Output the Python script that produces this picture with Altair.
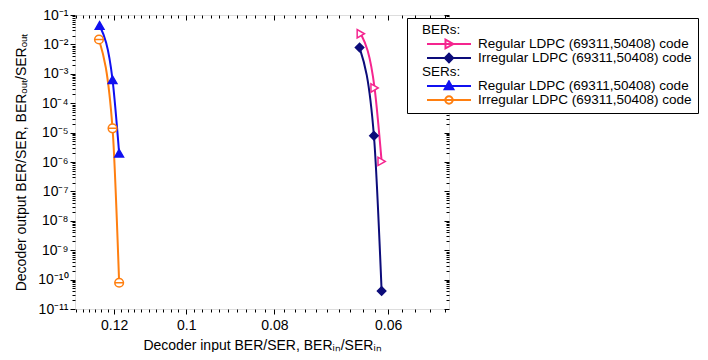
import json
import altair as alt
import pandas as pd

# ---------------- data ----------------
series_labels = ["Regular LDPC (69311,50408) code", "Irregular LDPC (69311,50408) code"]
legend_headers = ["BERs:", "SERs:"]

ber_reg_x = [0.0643, 0.0621, 0.0610]
ber_reg_y = [2.3e-2, 3.3e-4, 1.05e-6]
ber_irr_x = [0.0645, 0.0622, 0.0610]
ber_irr_y = [7.8e-3, 7.8e-6, 4.1e-11]

ser_reg_x = [0.1245, 0.1205, 0.1185]
ser_reg_y = [4.4e-2, 6.3e-4, 2.0e-6]
ser_irr_x = [0.1247, 0.1205, 0.1185]
ser_irr_y = [1.47e-2, 1.4e-5, 7.8e-11]

x_major = [0.12, 0.1, 0.08, 0.06]
y_major = [1e-1, 1e-2, 1e-3, 1e-4, 1e-5, 1e-6, 1e-7, 1e-8, 1e-9, 1e-10, 1e-11]
y_tick_labels = ["10⁻¹", "10⁻²", "10⁻³", "10⁻⁴", "10⁻⁵", "10⁻⁶",
                 "10⁻⁷", "10⁻⁸", "10⁻⁹", "10⁻¹⁰", "10⁻¹¹"]

x_title = "Decoder input BER/SER, BERᵢₙ/SERᵢₙ"
y_title = "Decoder output BER/SER, BERₒᵤₜ/SERₒᵤₜ"

# minor ticks (axis styling)
x_minor = [round(0.052 + 0.002 * i, 3) for i in range(41)]
x_minor = [v for v in x_minor if v <= 0.1325 and v not in x_major]
y_minor = [k * 10.0 ** e for e in range(-11, -1) for k in range(2, 10)]

# ---------------- tables ----------------
def frame(xs, ys, name, key):
    return pd.DataFrame({"x": xs, "y": ys, "series": name, "key": key, "i": range(len(xs))})

ber = pd.concat([frame(ber_reg_x, ber_reg_y, series_labels[0], "b1"),
                 frame(ber_irr_x, ber_irr_y, series_labels[1], "b2")])
ser = pd.concat([frame(ser_reg_x, ser_reg_y, series_labels[0], "s1"),
                 frame(ser_irr_x, ser_irr_y, series_labels[1], "s2")])
both = pd.concat([ber, ser])

# ---------------- styling ----------------
FONT = "Liberation Sans"
W, H = 374, 294
PINK, NAVY, BLUE, ORANGE = "#f5258f", "#0c0c7a", "#1010f0", "#ff7f10"
NONE = "rgba(0,0,0,0)"

x_scale = alt.Scale(type="log", domain=[0.05144, 0.1325], reverse=True, nice=False, zero=False)
y_scale = alt.Scale(type="log", domain=[1e-11, 1e-1], nice=False, zero=False)

common_axis = dict(grid=False, domain=False, tickColor="black", tickWidth=1)

def xaxis(values, size, labels=False, inward=False, title=None):
    kw = dict(common_axis, values=values, tickSize=size, orient="bottom")
    if inward:
        kw["offset"] = -H
    if labels:
        kw.update(labels=True, format="~g", labelFont=FONT, labelFontSize=14,
                  labelColor="black", labelPadding=4, title=title, titleFont=FONT,
                  titleFontSize=14, titleFontWeight="normal", titleColor="black",
                  titlePadding=6)
    else:
        kw.update(labels=False, title=None)
    return alt.Axis(**kw)

def yaxis(values, size, labels=False, inward=False, title=None):
    kw = dict(common_axis, values=values, tickSize=size, orient="left")
    if inward:
        kw["offset"] = -W
    if labels:
        expr = json.dumps(y_tick_labels, ensure_ascii=False) + "[round(-log(datum.value)/LN10)-1]"
        kw.update(labels=True, labelExpr=expr, labelFont=FONT, labelFontSize=14,
                  labelColor="black", labelPadding=2, title=title, titleFont=FONT,
                  titleFontSize=14, titleFontWeight="normal", titleColor="black",
                  titlePadding=9)
    else:
        kw.update(labels=False, title=None)
    return alt.Axis(**kw)

# marker shapes
CIRCLE_BAR = "M-1,0A1,1 0 1,1 1,0A1,1 0 1,1 -1,0Z M-1,0H1"
LEG_NONE = "M0,0Z"
LEG_TRI_R = "M-1,0H1M-0.16,-0.2L0.2,0L-0.16,0.2Z"
LEG_DIAM = "M-1,0H1M0,-0.2L0.19,0L0,0.2L-0.19,0Z"
LEG_TRI_U = "M-1,0H1M0,-0.21L0.2,0.15L-0.2,0.15Z"
LEG_CIRC = "M-1,0H1M-0.17,0A0.17,0.17 0 1,1 0.17,0A0.17,0.17 0 1,1 -0.17,0Z"

def line_layer(df, colors, xa, ya):
    return alt.Chart(df).mark_line(strokeWidth=2, interpolate="monotone").encode(
        x=alt.X("x:Q", scale=x_scale, axis=xa),
        y=alt.Y("y:Q", scale=y_scale, axis=ya),
        color=alt.Color("series:N", scale=alt.Scale(domain=series_labels, range=colors), legend=None),
        order="i:Q",
    )

def point_layer(df, fills, strokes, shapes, size, xa, ya):
    return alt.Chart(df).mark_point(filled=True, size=size, strokeWidth=1.5, opacity=1).encode(
        x=alt.X("x:Q", scale=x_scale, axis=xa),
        y=alt.Y("y:Q", scale=y_scale, axis=ya),
        fill=alt.Fill("series:N", scale=alt.Scale(domain=series_labels, range=fills), legend=None),
        stroke=alt.Stroke("series:N", scale=alt.Scale(domain=series_labels, range=strokes), legend=None),
        shape=alt.Shape("series:N", scale=alt.Scale(domain=series_labels, range=shapes), legend=None),
    )

# one legend: header rows + entries
keys = ["h1", "b1", "b2", "h2", "s1", "s2"]
key_text = {"h1": legend_headers[0], "b1": series_labels[0], "b2": series_labels[1],
            "h2": legend_headers[1], "s1": series_labels[0], "s2": series_labels[1]}
label_expr = "".join(f"datum.value == '{k}' ? '{v}' : " for k, v in key_text.items()) + "''"
is_head = "(datum.value == 'h1' || datum.value == 'h2')"

leg = alt.Legend(
    title=None, orient="none", legendX=332, legendY=3, padding=6,
    strokeColor="black", fillColor="white",
    symbolSize=1936, symbolStrokeWidth=2, symbolOpacity=1, symbolOffset=13,
    labelFont=FONT, labelFontSize=13.5, labelColor="black", labelLimit=400,
    labelExpr=label_expr,
    labelOffset=alt.ExprRef(expr=f"{is_head} ? -50 : 6"),
    clipHeight=12, rowPadding=0,
)
leg_fill = [NONE, "white", NAVY, NONE, BLUE, "white"]
leg_stroke = [NONE, PINK, NAVY, NONE, BLUE, ORANGE]
leg_shape = [LEG_NONE, LEG_TRI_R, LEG_DIAM, LEG_NONE, LEG_TRI_U, LEG_CIRC]

l5 = alt.Chart(both).mark_point(filled=True, size=10, opacity=0).encode(
    x=alt.X("x:Q", scale=x_scale, axis=None),
    y=alt.Y("y:Q", scale=y_scale, axis=None),
    fill=alt.Fill("key:N", scale=alt.Scale(domain=keys, range=leg_fill), legend=leg),
    stroke=alt.Stroke("key:N", scale=alt.Scale(domain=keys, range=leg_stroke), legend=leg),
    shape=alt.Shape("key:N", scale=alt.Scale(domain=keys, range=leg_shape), legend=leg),
)

l1 = line_layer(ber, [PINK, NAVY],
                xaxis(x_major, 5, labels=True, title=x_title),
                yaxis(y_major, 5, labels=True, title=y_title))
l2 = point_layer(ber, ["white", NAVY], [PINK, NAVY], ["triangle-right", "diamond"], 70,
                 xaxis(x_minor, 3), yaxis(y_minor, 3))
l3 = line_layer(ser, [BLUE, ORANGE],
                xaxis(x_major, 5, inward=True), yaxis(y_major, 5, inward=True))
l4 = point_layer(ser, [BLUE, "white"], [BLUE, ORANGE], ["triangle-up", CIRCLE_BAR], 75,
                 xaxis(x_minor, 3, inward=True), yaxis(y_minor, 3, inward=True))

chart = alt.layer(l1, l2, l3, l4, l5).resolve_scale(
    color="independent", fill="independent", stroke="independent", shape="independent"
).resolve_axis(x="independent", y="independent").properties(
    width=W, height=H,
    autosize=alt.AutoSizeParams(type="none"),
    padding={"left": 67, "top": 7, "right": 251, "bottom": 43},
).configure_view(stroke="black", strokeWidth=1.2).configure(background="white")

chart.save("out.html", embed_options={"renderer": "svg", "actions": False})
